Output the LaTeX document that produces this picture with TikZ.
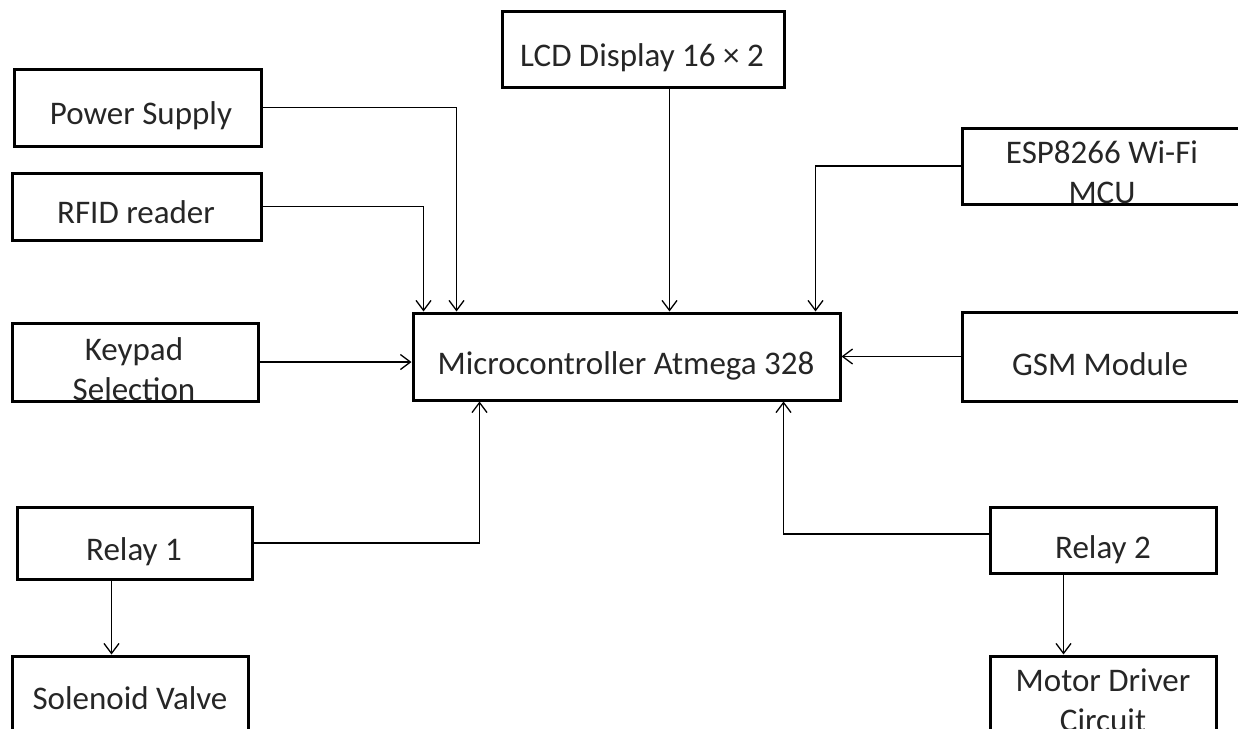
\documentclass[tikz,border=0pt]{standalone}
\usepackage{fontspec}
\setmainfont{Carlito}
\usetikzlibrary{arrows.meta,calc}

\begin{document}
\begin{tikzpicture}[x=1pt, y=-1pt,
    blk/.style={rectangle, draw, line width=3pt, inner sep=0pt},
    lbl/.style={anchor=base, inner sep=0pt, text=black!85,
      font=\fontsize{33}{39}\selectfont},
    arr/.style={line width=1.3pt,
      -{Straight Barb[length=10pt,width=15pt,line width=1.3pt]}}
  ]
    \useasboundingbox (0,0) rectangle (1238,728);
    \clip (0,0) rectangle (1238,728);

    % Blocks
    \node[blk, minimum width=282pt, minimum height=76pt] (lcd)  at (643,49)    {};
    \node[blk, minimum width=247pt, minimum height=77pt] (psu)  at (137.5,107.5) {};
    \node[blk, minimum width=249pt, minimum height=67pt] (rfid) at (136.5,206.5) {};
    \node[blk, minimum width=246pt, minimum height=78pt] (kpd)  at (135,362)   {};
    \node[blk, minimum width=427pt, minimum height=87pt] (mcu)  at (626.5,356.5) {};
    \node[blk, minimum width=280pt, minimum height=76pt] (esp)  at (1102,166)  {};
    \node[blk, minimum width=280pt, minimum height=89pt] (gsm)  at (1102,356.5) {};
    \node[blk, minimum width=235pt, minimum height=72pt] (rl1)  at (134.5,543) {};
    \node[blk, minimum width=226pt, minimum height=66pt] (rl2)  at (1103,540)  {};
    \node[blk, minimum width=236pt, minimum height=100pt] (sol) at (130,706)   {};
    \node[blk, minimum width=226pt, minimum height=100pt] (mtr) at (1103,706)  {};

    % Texts
    \node[lbl] (lcd-t)  at (642,66)   {LCD Display 16 × 2};
    \node[lbl] (psu-t)  at (141,124)  {Power Supply};
    \node[lbl] (rfid-t) at (136,223)  {RFID reader};
    \node[lbl] (mcu-t)  at (626,374)  {Microcontroller Atmega 328};
    \node[lbl] (gsm-t)  at (1100,375) {GSM Module};
    \node[lbl] (rl1-t)  at (134,560)  {Relay 1};
    \node[lbl] (rl2-t)  at (1103,558) {Relay 2};
    \node[lbl] (sol-t)  at (130,709)  {Solenoid Valve};
    \node[lbl] (mtr-t1) at (1103,691) {Motor Driver};
    \node[lbl] (mtr-t2) at (1103,731) {Circuit};
    \node[lbl] (kpd-t1) at (134,360)  {Keypad};
    \node[lbl] (esp-t1) at (1102,163) {ESP8266 Wi-Fi};
    \begin{scope}
      \clip (kpd.south west) rectangle (kpd.north east);
      \node[lbl] (kpd-t2) at (134,400) {Selection};
    \end{scope}
    \begin{scope}
      \clip (esp.south west) rectangle (esp.north east);
      \node[lbl] (esp-t2) at (1102,203) {MCU};
    \end{scope}

    % Entry points on the controller
    \coordinate (in-rfid) at ($(mcu.north west)+(12,0)$);
    \coordinate (in-psu)  at ($(mcu.north west)+(45,0)$);
    \coordinate (in-lcd)  at ($(mcu.north west)+(258,0)$);
    \coordinate (in-esp)  at ($(mcu.north west)+(404,0)$);
    \coordinate (in-rl1)  at ($(mcu.south west)+(68,0)$);
    \coordinate (in-rl2)  at ($(mcu.south west)+(372,0)$);
    \coordinate (in-sol)  at ($(sol.north west)+(101,0)$);
    \coordinate (in-mtr)  at ($(mtr.north west)+(75,0)$);

    % Connectors
    \draw[arr] (psu.east) -| (in-psu);
    \draw[arr] (rfid.east) -| (in-rfid);
    \draw[arr] (lcd.south -| in-lcd) -- (in-lcd);
    \draw[arr] (esp.west) -| (in-esp);
    \draw[arr] (kpd.east) -- (kpd.east -| mcu.west);
    \draw[arr] (gsm.west) -- (gsm.west -| mcu.east);
    \draw[arr] (rl1.east) -| (in-rl1);
    \draw[arr] ($(rl2.west)+(0,-6)$) -| (in-rl2);
    \draw[arr] (rl1.south -| in-sol) -- (in-sol);
    \draw[arr] (rl2.south -| in-mtr) -- (in-mtr);
\end{tikzpicture}
\end{document}
